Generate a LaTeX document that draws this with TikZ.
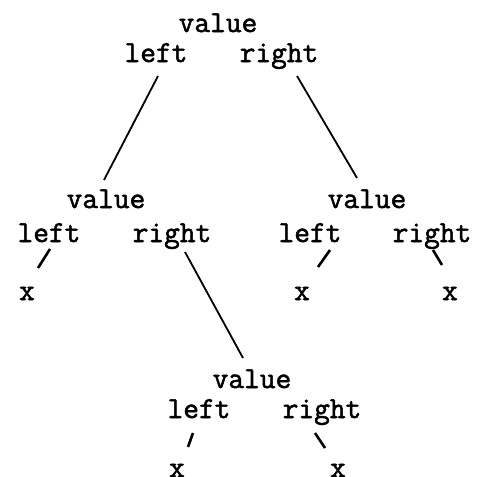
\documentclass[tikz,border=0pt]{standalone}
\usepackage{fontspec}
\newfontfamily\treefont[FakeBold=1.8]{Latin Modern Mono}
\usetikzlibrary{positioning}
\tikzset{field/.style={font=\treefont\fontsize{30.5}{34}\selectfont, inner sep=0pt, anchor=base}}
\tikzset{link/.style={line width=1.8pt}}
\tikzset{stub/.style={line width=2.6pt}}

\begin{document}
\begin{tikzpicture}[x=1pt, y=-1pt]
\useasboundingbox (0,0) rectangle (477,477);

\node (v1) [field] at (218,32) {value};
\node (v1l) [field, below=30pt of v1.base, anchor=base, xshift=-62pt] {left};
\node (v1r) [field, below=30pt of v1.base, anchor=base, xshift=61pt] {right};

\node (v2) [field] at (106,208) {value};
\node (v2l) [field, below=34pt of v2.base, anchor=base, xshift=-57pt] {left};
\node (v2r) [field, below=34pt of v2.base, anchor=base, xshift=66pt] {right};
\node (x1) [field, below=58pt of v2l.base, anchor=base, xshift=-22pt] {x};

\node (v3) [field] at (367,208) {value};
\node (v3l) [field, below=34pt of v3.base, anchor=base, xshift=-57pt] {left};
\node (v3r) [field, below=34pt of v3.base, anchor=base, xshift=65pt] {right};
\node (x2) [field, below=58pt of v3l.base, anchor=base, xshift=-8pt] {x};
\node (x3) [field, below=58pt of v3r.base, anchor=base, xshift=18pt] {x};

\node (v4) [field] at (252,388) {value};
\node (v4l) [field, below=30pt of v4.base, anchor=base, xshift=-53pt] {left};
\node (v4r) [field, below=30pt of v4.base, anchor=base, xshift=70pt] {right};
\node (x4) [field, below=59pt of v4l.base, anchor=base, xshift=-22pt] {x};
\node (x5) [field, below=59pt of v4r.base, anchor=base, xshift=16pt] {x};

% long branches
\draw [link] ([shift={(2,14)}]v1l.base) -- ([shift={(-2,-28)}]v2.base);
\draw [link] ([shift={(18,14)}]v1r.base) -- ([shift={(-10,-30)}]v3.base);
\draw [link] ([shift={(13,10)}]v2r.base) -- ([shift={(-9,-30)}]v4.base);

% short stubs to the leaves
\draw [stub] ([shift={(1,7)}]v2l.base) -- ([shift={(11,-32)}]x1.base);
\draw [stub] ([shift={(20,8)}]v3l.base) -- ([shift={(16,-33)}]x2.base);
\draw [stub] ([shift={(1,8)}]v3r.base) -- ([shift={(-8,-35)}]x3.base);
\draw [stub] ([shift={(-6,15)}]v4l.base) -- ([shift={(11,-30)}]x4.base);
\draw [stub] ([shift={(-7,15)}]v4r.base) -- ([shift={(-13,-29)}]x5.base);
\end{tikzpicture}
\end{document}
